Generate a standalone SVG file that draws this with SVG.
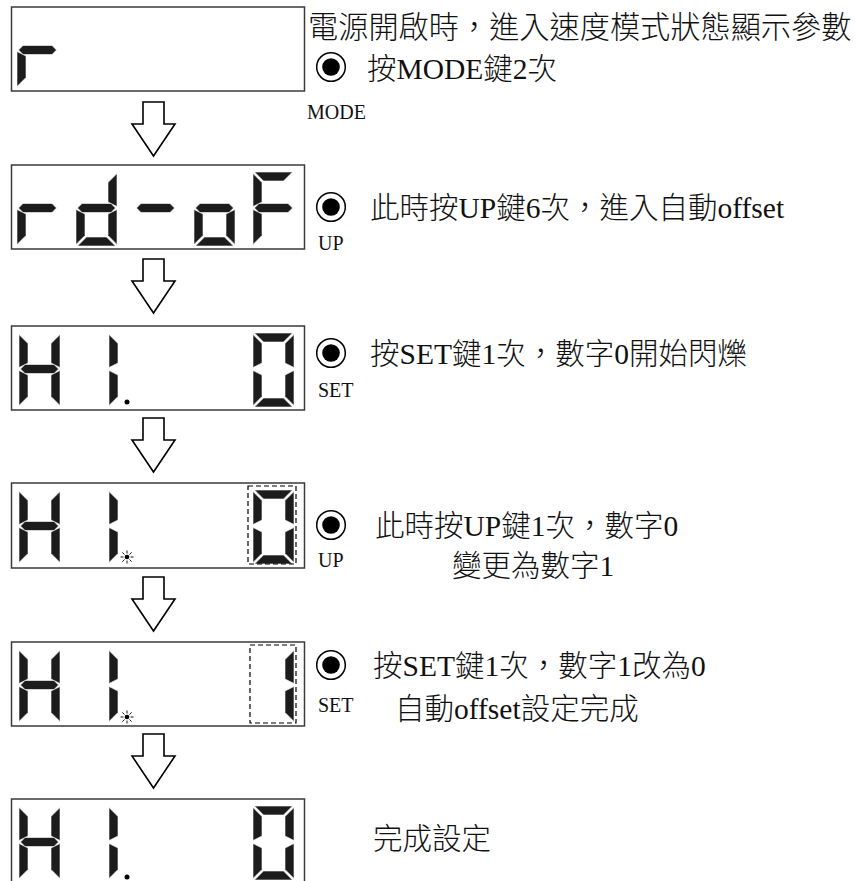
<svg xmlns="http://www.w3.org/2000/svg" xmlns:xlink="http://www.w3.org/1999/xlink" width="856" height="881" viewBox="0 0 856 881">
<style>
.panel{fill:#fff;stroke:#3a3a3a;stroke-width:1.5}
.seg{fill:#1c1c1c;stroke:#fff;stroke-width:0.6}
.arrow{fill:#fff;stroke:#000;stroke-width:1.6;stroke-linejoin:miter}
.dash{fill:none;stroke:#000;stroke-width:1.2;stroke-dasharray:5 3}
.txt{font-family:"Liberation Serif","Noto Sans CJK TC",serif;font-size:29.5px;font-weight:300;fill:#111}
.big{font-size:30.2px}
.lbl{font-family:"Liberation Serif","Noto Sans CJK TC",serif;font-size:20px;fill:#111}
.btn-o{fill:#fff;stroke:#000;stroke-width:1.5}
.btn-i{fill:#000}
</style>
<defs>
<polygon id="sa" class="seg" points="1.5,0 39.5,0 30.5,9 10.5,9"/>
<polygon id="sd" class="seg" points="1.5,74 39.5,74 30.5,65 10.5,65"/>
<polygon id="sf" class="seg" points="0,1.5 9,10.5 9,30 0,34.5"/>
<polygon id="se" class="seg" points="0,37.5 9,42 9,63.5 0,72.5"/>
<polygon id="sb" class="seg" points="41,1.5 32,10.5 32,30 41,34.5"/>
<polygon id="sc" class="seg" points="41,37.5 32,42 32,63.5 41,72.5"/>
<polygon id="sg" class="seg" points="1.5,36 6,31.5 35,31.5 39.5,36 35,40.5 6,40.5"/>
<g id="dH"><use href="#sb"/><use href="#sc"/><use href="#se"/><use href="#sf"/><use href="#sg"/></g>
<g id="d0"><use href="#sa"/><use href="#sb"/><use href="#sc"/><use href="#sd"/><use href="#se"/><use href="#sf"/></g>
<g id="d1L"><use href="#sf"/><use href="#se"/></g>
<g id="d1R"><use href="#sb"/><use href="#sc"/></g>
<g id="star" stroke="#000" stroke-width="0.9">
<circle r="2.3" fill="#000" stroke="none"/>
<line x1="0" y1="-3.5" x2="0" y2="-6.5"/><line x1="0" y1="3.5" x2="0" y2="6.5"/>
<line x1="-3.5" y1="0" x2="-6.5" y2="0"/><line x1="3.5" y1="0" x2="6.5" y2="0"/>
<line x1="2.5" y1="2.5" x2="4.6" y2="4.6"/><line x1="-2.5" y1="2.5" x2="-4.6" y2="4.6"/>
<line x1="2.5" y1="-2.5" x2="4.6" y2="-4.6"/><line x1="-2.5" y1="-2.5" x2="-4.6" y2="-4.6"/>
</g>
<g id="btn"><circle class="btn-o" r="14.3"/><circle class="btn-i" r="8.8"/></g>
<polygon id="arr" class="arrow" points="143,0 164,0 164,22 175,22 153.5,54 132,22 143,22"/>
</defs>

<g id="connectors">
<use href="#arr" y="102"/>
<use href="#arr" y="259"/>
<use href="#arr" y="418"/>
<use href="#arr" y="577"/>
<use href="#arr" y="734"/>
</g>

<g id="panel1">
<rect class="panel" x="11.5" y="7" width="293" height="84"/>
<g transform="translate(17,14)"><use href="#sg"/><use href="#se"/></g>
</g>

<g id="panel2">
<rect class="panel" x="11.5" y="165" width="293" height="84"/>
<g transform="translate(17,172)"><use href="#sg"/><use href="#se"/></g>
<g transform="translate(76,172)"><use href="#sb"/><use href="#sc"/><use href="#sd"/><use href="#se"/><use href="#sg"/></g>
<g transform="translate(135,172)"><use href="#sg"/></g>
<g transform="translate(194,172)"><use href="#sc"/><use href="#sd"/><use href="#se"/><use href="#sg"/></g>
<g transform="translate(253,172)"><use href="#sa"/><use href="#sf"/><use href="#se"/><use href="#sg"/></g>
</g>

<g id="panel3">
<rect class="panel" x="11.5" y="326" width="293" height="84"/>
<use href="#dH" x="19" y="333"/>
<use href="#d1L" x="109" y="333"/>
<circle cx="127" cy="402" r="2.5" fill="#000"/>
<use href="#d0" x="253" y="333"/>
</g>

<g id="panel4">
<rect class="panel" x="11.5" y="483" width="293" height="85"/>
<use href="#dH" x="19" y="490"/>
<use href="#d1L" x="109" y="490"/>
<use href="#star" x="127" y="557"/>
<use href="#d0" x="253" y="490"/>
<rect class="dash" x="248" y="486" width="48" height="78"/>
</g>

<g id="panel5">
<rect class="panel" x="11.5" y="642" width="293" height="84"/>
<use href="#dH" x="19" y="649"/>
<use href="#d1L" x="109" y="649"/>
<use href="#star" x="127" y="717"/>
<use href="#d1R" x="253" y="649"/>
<rect class="dash" x="250" y="645" width="46" height="78"/>
</g>

<g id="panel6">
<rect class="panel" x="11.5" y="799" width="293" height="95"/>
<use href="#dH" x="19" y="806"/>
<use href="#d1L" x="109" y="806"/>
<circle cx="127" cy="877" r="2.5" fill="#000"/>
<use href="#d0" x="253" y="806"/>
</g>

<g id="step1">
<text class="txt big" x="308" y="38">電源開啟時，進入速度模式狀態顯示參數</text>
<use href="#btn" x="331" y="67"/>
<text class="txt" x="367" y="79">按MODE鍵2次</text>
<text class="lbl" x="307" y="119">MODE</text>
</g>

<g id="step2">
<use href="#btn" x="331" y="207"/>
<text class="txt" x="370" y="218">此時按UP鍵6次，進入自動offset</text>
<text class="lbl" x="318" y="250">UP</text>
</g>

<g id="step3">
<use href="#btn" x="331" y="353"/>
<text class="txt" x="370" y="364">按SET鍵1次，數字0開始閃爍</text>
<text class="lbl" x="318" y="397">SET</text>
</g>

<g id="step4">
<use href="#btn" x="331" y="525"/>
<text class="txt" x="375" y="536">此時按UP鍵1次，數字0</text>
<text class="txt" x="452" y="576">變更為數字1</text>
<text class="lbl" x="318" y="567">UP</text>
</g>

<g id="step5">
<use href="#btn" x="331" y="665"/>
<text class="txt" x="373" y="676">按SET鍵1次，數字1改為0</text>
<text class="txt" x="395" y="719">自動offset設定完成</text>
<text class="lbl" x="318" y="712">SET</text>
</g>

<g id="step6">
<text class="txt" x="373" y="849">完成設定</text>
</g>
</svg>
